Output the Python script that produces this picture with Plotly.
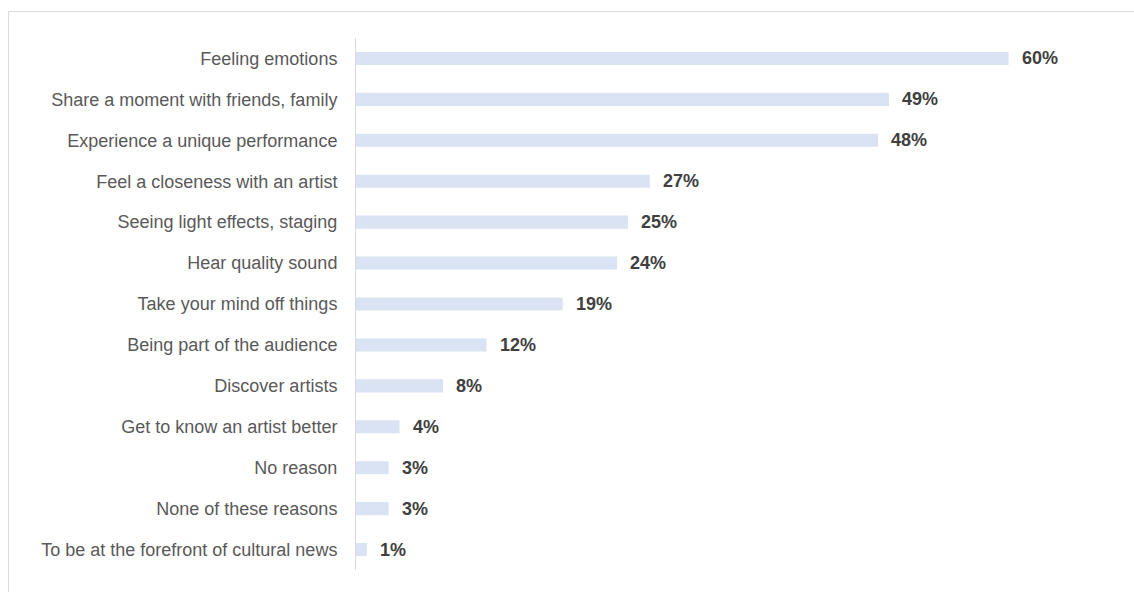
import plotly.graph_objects as go

categories = [
    "Feeling emotions",
    "Share a moment with friends, family",
    "Experience a unique performance",
    "Feel a closeness with an artist",
    "Seeing light effects, staging",
    "Hear quality sound",
    "Take your mind off things",
    "Being part of the audience",
    "Discover artists",
    "Get to know an artist better",
    "No reason",
    "None of these reasons",
    "To be at the forefront of cultural news",
]
values = [60, 49, 48, 27, 25, 24, 19, 12, 8, 4, 3, 3, 1]
value_labels = [f"{v}%" for v in values]

W, H = 1134, 592
L, R, T, B = 356, 71, 38, 22
pw, ph = W - L - R, H - T - B

fig = go.Figure()
fig.add_trace(go.Bar(
    y=categories, x=values, orientation="h",
    marker=dict(color="#dae3f3", line=dict(width=0)),
    hoverinfo="skip",
))

for c, v, t in zip(categories, values, value_labels):
    fig.add_annotation(
        x=v, y=c, text=f"<b>{t}</b>", showarrow=False,
        xanchor="left", yanchor="middle", xshift=11,
        font=dict(family="Liberation Sans, Arial", size=18, color="#404040"),
    )

def px_x(p):
    return (p - L) / pw

def px_y(p):
    return (H - B - p) / ph

fig.add_shape(
    type="rect", xref="paper", yref="paper",
    x0=px_x(8.5), x1=px_x(1140), y0=px_y(11.5), y1=px_y(600),
    line=dict(color="#d9d9d9", width=1), fillcolor="rgba(0,0,0,0)", layer="below",
)

fig.update_layout(
    width=W, height=H,
    margin=dict(l=L, r=R, t=T, b=B),
    paper_bgcolor="white", plot_bgcolor="white",
    bargap=0.68,
    showlegend=False,
    xaxis=dict(range=[0, 65], visible=False, fixedrange=True),
    yaxis=dict(
        autorange="reversed", showline=True, linecolor="#d9d9d9", linewidth=1,
        showgrid=False, zeroline=False, ticks="", ticklabelstandoff=14,
        tickfont=dict(family="Liberation Sans, Arial", size=18, color="#595959"),
        fixedrange=True,
    ),
)

fig.write_html("out.html")
